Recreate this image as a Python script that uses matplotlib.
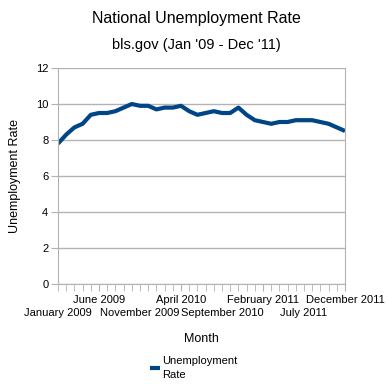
import matplotlib
matplotlib.use("Agg")
import matplotlib.pyplot as plt
import numpy as np

plt.rcParams['font.family'] = ['Liberation Sans', 'DejaVu Sans']

# monthly unemployment rate, Jan 2009 .. Dec 2011
months = ['January 2009', 'February 2009', 'March 2009', 'April 2009', 'May 2009', 'June 2009',
          'July 2009', 'August 2009', 'September 2009', 'October 2009', 'November 2009', 'December 2009',
          'January 2010', 'February 2010', 'March 2010', 'April 2010', 'May 2010', 'June 2010',
          'July 2010', 'August 2010', 'September 2010', 'October 2010', 'November 2010', 'December 2010',
          'January 2011', 'February 2011', 'March 2011', 'April 2011', 'May 2011', 'June 2011',
          'July 2011', 'August 2011', 'September 2011', 'October 2011', 'November 2011', 'December 2011']
rate = [7.8, 8.3, 8.7, 8.9, 9.4, 9.5, 9.5, 9.6, 9.8, 10.0, 9.9, 9.9,
        9.7, 9.8, 9.8, 9.9, 9.6, 9.4, 9.5, 9.6, 9.5, 9.5, 9.8, 9.4,
        9.1, 9.0, 8.9, 9.0, 9.0, 9.1, 9.1, 9.1, 9.0, 8.9, 8.7, 8.5]
yticks = [0, 2, 4, 6, 8, 10, 12]

gray = '#b3b3b3'
fig = plt.figure(figsize=(3.88, 3.88), dpi=100)
ax = fig.add_axes([58/388, 1-284/388, 287/388, 216/388])

x = np.arange(len(months))
ax.plot(x, rate, color='#004586', lw=3, solid_capstyle='butt', label='Unemployment\nRate')

ax.set_xlim(0, len(months)-1)
ax.set_ylim(0, 12)
ax.set_yticks(yticks)
ax.grid(axis='y', color=gray, lw=1)
ax.set_axisbelow(True)
for s in ax.spines.values():
    s.set_color(gray)
ax.spines['top'].set_visible(False)

# staggered month labels: odd ones on the upper row, even ones on the lower row
upper = list(range(5, len(months), 10))
lower = list(range(0, len(months), 10))
ax.set_xticks(upper)
ax.set_xticklabels([months[i] for i in upper], fontsize=8)
ax.set_xticks(x, minor=True)
ax.tick_params(axis='x', which='both', length=5, color=gray, pad=3)
ax.tick_params(axis='y', length=5, color=gray, labelsize=8, pad=2)

sec = ax.secondary_xaxis('bottom')
sec.set_xticks(lower)
sec.set_xticklabels([months[i] for i in lower], fontsize=8)
sec.tick_params(length=0, pad=17)
sec.spines['bottom'].set_visible(False)

ax.set_ylabel('Unemployment Rate', fontsize=9)
ax.yaxis.set_label_coords(-0.13, 0.5)
ax.set_xlabel('Month', fontsize=9)
ax.xaxis.set_label_coords(0.5, -0.225)

fig.text(0.505, 1-18/388, 'National Unemployment Rate', ha='center', va='center', fontsize=11.5)
fig.text(0.505, 1-45/388, "bls.gov (Jan '09 - Dec '11)", ha='center', va='center', fontsize=10.5)

leg = fig.legend(loc='center', bbox_to_anchor=(0.5, 1-368/388), frameon=False, fontsize=8,
                 handlelength=0.9, handletextpad=0.2)
leg.get_texts()[0].set_linespacing(1.45)

fig.savefig('out.png', dpi=100)
